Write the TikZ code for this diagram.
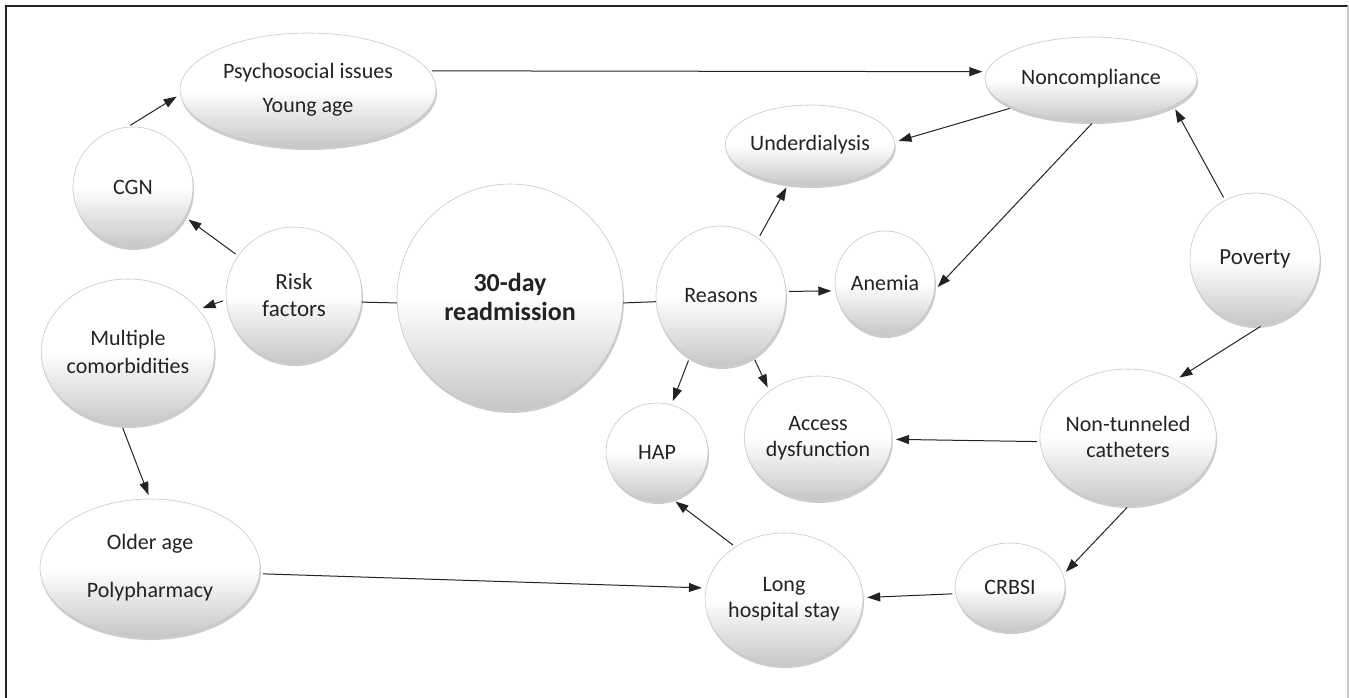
\documentclass[tikz,border=0pt]{standalone}
\usepackage{fontspec}
\setmainfont{Carlito}
\usetikzlibrary{arrows.meta,shapes.geometric,shadows}
\definecolor{ink}{RGB}{35,35,35}
\definecolor{rim}{RGB}{200,200,200}

\begin{document}
\begin{tikzpicture}[x=1pt, y=1pt,
  font=\fontsize{22}{26}\selectfont,
  bubble/.style={ellipse, draw=rim, line width=0.6pt, inner sep=0pt, align=center, text=ink,
    top color=white, bottom color=black!22, middle color=white,
    drop shadow={shadow xshift=1pt, shadow yshift=-3pt, opacity=0.2, fill=black}},
  link/.style={draw=ink, line width=1pt, -{Triangle[length=13pt,width=9pt]}, shorten >=4pt, shorten <=3pt},
  tie/.style={draw=ink, line width=1pt}
]
\useasboundingbox (0,0) rectangle (1349,-698);
\draw[ink, line width=1.5pt] (6,-698) -- (6,-6) -- (1348,-6);
\draw[rim, line width=1.5pt] (1348,-6) -- (1348,-698);

\node[bubble, minimum width=256pt, minimum height=114pt] (psy) at (308,-90) {Psychosocial issues\\[8pt]Young age};
\node[bubble, minimum size=120pt] (cgn) at (133,-187) {CGN};
\node[bubble, minimum size=136pt, font=\fontsize{23}{27}\selectfont] (risk) at (294,-295) {Risk\\factors};
\node[bubble, minimum size=146pt, font=\fontsize{22}{28}\selectfont] (multi) at (128,-352) {Multiple\\comorbidities};
\node[bubble, minimum width=220pt, minimum height=138pt] (older) at (150,-568) {Older age\\[22pt]Polypharmacy};
\node[bubble, minimum size=226pt, font=\fontsize{26}{29}\selectfont\bfseries] (readm) at (510,-297) {30-day\\readmission};
\node[bubble, minimum width=130pt, minimum height=140pt] (reasons) at (721,-296) {Reasons};
\node[bubble, minimum width=144pt, minimum height=80pt] (under) at (810,-145) {Underdialysis};
\node[bubble, minimum width=212pt, minimum height=84pt] (noncomp) at (1091,-79) {Noncompliance};
\node[bubble, minimum width=100pt, minimum height=104pt] (anemia) at (885,-283) {Anemia};
\node[bubble, minimum width=130pt, minimum height=132pt, font=\fontsize{23}{27}\selectfont] (poverty) at (1255,-259) {Poverty};
\node[bubble, minimum width=102pt, minimum height=98pt] (hap) at (657,-452) {HAP};
\node[bubble, minimum width=130pt, minimum height=124pt] (access) at (818,-438) {Access\\dysfunction};
\node[bubble, minimum width=144pt, minimum height=136pt] (nontun) at (1128,-437) {Non-tunneled\\catheters};
\node[bubble, minimum width=156pt, minimum height=132pt] (long) at (784,-599) {Long\\hospital stay};
\node[bubble, minimum width=110pt, minimum height=88pt] (crbsi) at (1010,-587) {CRBSI};

\draw[tie] (risk.354) -- (readm.183);
\draw[tie] (readm.357) -- (reasons.185);
\foreach \a/\b in {cgn.95/psy.182, risk.145/cgn.330, risk.184/multi.31, multi.265/older.90,
  older.357/long.172, psy.9/noncomp.176, reasons.57/under.241, reasons.4/anemia.189,
  reasons.243/hap.73, reasons.298/access.136, noncomp.200/under.2, noncomp.274/anemia.352,
  poverty.117/noncomp.342, poverty.277/nontun.50, nontun.183/access.359, nontun.271/crbsi.13,
  crbsi.187/long.1, long.133/hap.288}
  \draw[link] (\a) -- (\b);
\end{tikzpicture}
\end{document}
